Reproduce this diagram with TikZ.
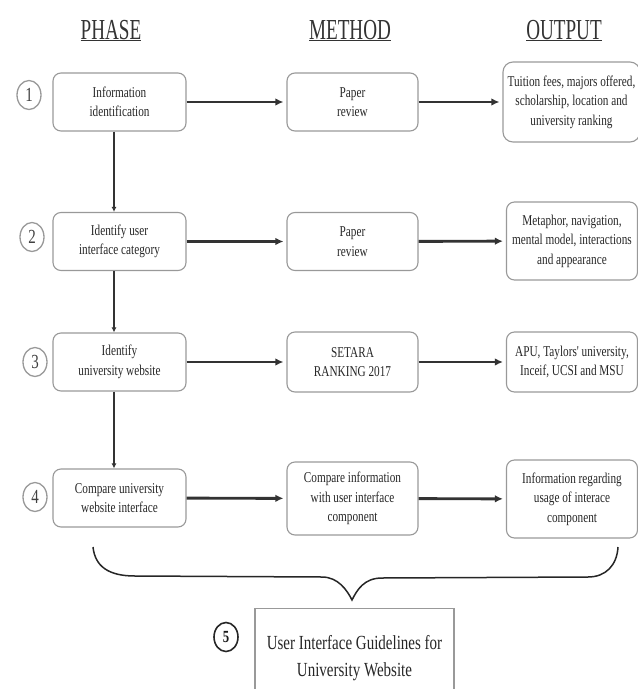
\documentclass[tikz,border=0pt]{standalone}
\usepackage{fontspec}
\setmainfont{Liberation Serif}
\newfontfamily\boxfont{Liberation Serif}[FakeStretch=0.75]
\newfontfamily\headfont{Liberation Serif}[FakeStretch=0.66]
\usetikzlibrary{arrows.meta, positioning, shapes.geometric}

\begin{document}
\begin{tikzpicture}[x=1pt, y=-1pt,
    box/.style={draw=black!40, line width=1.1pt, rounded corners=8pt, minimum width=133pt, minimum height=58pt, align=center, inner sep=2pt, text=black!85, font=\boxfont\fontsize{15}{19.5}\selectfont},
    header/.style={anchor=base, text=black!80, font=\headfont\fontsize{29}{30}\selectfont},
    stepnum/.style={draw=black!40, line width=1.3pt, ellipse, minimum width=24pt, minimum height=29pt, inner sep=0pt, text=black!75, font=\boxfont\fontsize{20}{20}\selectfont},
    arrow/.style={-{Latex[length=8pt,width=7.5pt]}, line width=2.9pt, draw=black!80, shorten >=3pt},
    downarrow/.style={-{Latex[length=5pt,width=5pt]}, line width=1.3pt, draw=black!80}
  ]
  \useasboundingbox (0,0) rectangle (638,689);

  % Column headers
  \node[header] (hphase) at (111,39) {\underline{PHASE}};
  \node[header] (hmethod) at (350,39) {\underline{METHOD}};
  \node[header] (houtput) at (564,39) {\underline{OUTPUT}};

  % Phase column
  \node[box] (phase1) at (119.5,102) {Information\\identification};
  \node[box] (phase2) at (119.5,241.5) {Identify user\\interface category};
  \node[box] (phase3) at (119.5,362) {Identify\\university website};
  \node[box] (phase4) at (119.5,498) {Compare university\\website interface};

  % Method column
  \node[box, minimum width=131pt] (method1) at (352.5,102) {Paper\\review};
  \node[box, minimum width=131pt] (method2) at (352.5,241.5) {Paper\\review};
  \node[box, minimum width=131pt, minimum height=60pt] (method3) at (352.5,362) {SETARA\\RANKING 2017};
  \node[box, minimum width=131pt, minimum height=73pt] (method4) at (352.5,498.5) {Compare information\\with user interface\\component};

  % Output column
  \node[box, minimum width=137pt, minimum height=80pt, rounded corners=10pt] (output1) at (571.5,102) {Tuition fees, majors offered,\\scholarship, location and\\university ranking};
  \node[box, minimum width=131pt, minimum height=78pt] (output2) at (572,241) {Metaphor, navigation,\\mental model, interactions\\and appearance};
  \node[box, minimum width=131pt, minimum height=60pt] (output3) at (572,362) {APU, Taylors' university,\\Inceif, UCSI and MSU};
  \node[box, minimum width=131pt, minimum height=78pt] (output4) at (572,499) {Information regarding\\usage of interace\\component};

  % Step numbers
  \node[stepnum] (num1) at (29,95) {1};
  \node[stepnum] (num2) at (32,237) {2};
  \node[stepnum] (num3) at (35,362) {3};
  \node[stepnum] (num4) at (35,497) {4};

  % Arrows along each row
  \foreach \r in {1,2,3,4} {
    \draw[arrow] (phase\r) -- (method\r);
    \draw[arrow] (method\r) -- (output\r);
  }

  % Arrows down the phase column
  \coordinate (vline) at (114,0);
  \foreach \r/\s in {1/2,2/3,3/4} {
    \draw[downarrow] (phase\r.south -| vline) -- (phase\s.north -| vline);
  }

  % Brace gathering the four phases
  \draw[line width=1.5pt, draw=black!85]
    (93,547) .. controls (95,566) and (108,576) .. (135,576) -- (322,577)
    .. controls (338,577) and (347,590) .. (352,600)
    .. controls (357,590) and (364,578) .. (382,578) -- (588,577)
    .. controls (606,577) and (617,565) .. (618,547);

  % Final step
  \node[draw=black!40, line width=1.1pt, minimum width=199pt, minimum height=100pt, anchor=north, align=center, text=black!85, font=\boxfont\fontsize{20}{27}\selectfont] (guide) at (354.5,608) {User Interface Guidelines for\\University Website};
  \node[stepnum, draw=black!85, line width=1.6pt, text=black!90, font=\boxfont\bfseries\fontsize{17}{17}\selectfont] (num5) at (226,637) {5};
\end{tikzpicture}
\end{document}
